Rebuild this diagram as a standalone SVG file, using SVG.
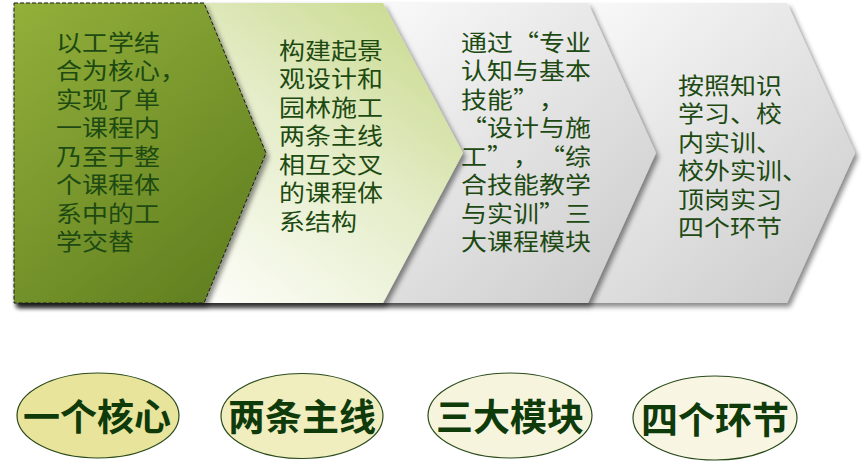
<svg xmlns="http://www.w3.org/2000/svg" width="866" height="461" viewBox="0 0 866 461">
<defs>
<style>
.t{font-family:"Noto Sans CJK SC","Noto Sans",sans-serif;font-size:23px;fill:#1d4a12;text-spacing-trim:space-all;}
.e{font-family:"Noto Sans CJK SC","Noto Sans",sans-serif;font-size:37px;font-weight:bold;fill:#0f3a0a;text-anchor:middle;}
.el{stroke:#2a4a1a;stroke-width:1.2;}
</style>
<filter id="sh" x="-10%" y="-10%" width="130%" height="130%">
<feDropShadow dx="3" dy="4" stdDeviation="2.5" flood-color="#000" flood-opacity="0.45"/>
</filter>
<linearGradient id="g1" gradientUnits="userSpaceOnUse" x1="14" y1="3" x2="266" y2="304">
<stop offset="0" stop-color="#93b03a"/><stop offset="1" stop-color="#5c7b1e"/>
</linearGradient>
<linearGradient id="g2" gradientUnits="userSpaceOnUse" x1="220" y1="304" x2="440" y2="10">
<stop offset="0" stop-color="#fcfdf7"/><stop offset="0.5" stop-color="#e5edca"/><stop offset="1" stop-color="#c8d98b"/>
</linearGradient>
<linearGradient id="g3" gradientUnits="userSpaceOnUse" x1="400" y1="0" x2="660" y2="304">
<stop offset="0" stop-color="#f8f8f8"/><stop offset="1" stop-color="#c9c9c9"/>
</linearGradient>
<linearGradient id="g4" gradientUnits="userSpaceOnUse" x1="600" y1="0" x2="860" y2="304">
<stop offset="0" stop-color="#f8f8f8"/><stop offset="1" stop-color="#c9c9c9"/>
</linearGradient>
</defs>
<rect width="866" height="461" fill="#ffffff"/>

<g id="node-4">
<path d="M14,3 H787 L855,153 L787,303 H14 Z" fill="url(#g4)" filter="url(#sh)"/>
<text class="t" transform="translate(678 0) scale(1.13 1)">
<tspan x="0" y="94">按照知识</tspan>
<tspan x="0" y="122.5">学习、校</tspan>
<tspan x="0" y="151">内实训、</tspan>
<tspan x="0" y="179.5">校外实训、</tspan>
<tspan x="0" y="208">顶岗实习</tspan>
<tspan x="0" y="236.5">四个环节</tspan>
</text>
</g>

<g id="node-3">
<path d="M14,3 H588 L656,153 L588,303 H14 Z" fill="url(#g3)" filter="url(#sh)"/>
<text class="t" transform="translate(461 0) scale(1.13 1)">
<tspan x="0" y="51">通过“专业</tspan>
<tspan x="0" y="79.5">认知与基本</tspan>
<tspan x="0" y="108">技能”，</tspan>
<tspan x="0" y="136.5">“设计与施</tspan>
<tspan x="0" y="165">工”，“综</tspan>
<tspan x="0" y="193.5">合技能教学</tspan>
<tspan x="0" y="222">与实训”三</tspan>
<tspan x="0" y="250.5">大课程模块</tspan>
</text>
</g>

<g id="node-2">
<path d="M14,3 H383 L463,153 L383,303 H14 Z" fill="url(#g2)" filter="url(#sh)"/>
<text class="t" transform="translate(279 0) scale(1.13 1)">
<tspan x="0" y="59">构建起景</tspan>
<tspan x="0" y="87.5">观设计和</tspan>
<tspan x="0" y="116">园林施工</tspan>
<tspan x="0" y="144.5">两条主线</tspan>
<tspan x="0" y="173">相互交叉</tspan>
<tspan x="0" y="201.5">的课程体</tspan>
<tspan x="0" y="230">系结构</tspan>
</text>
</g>

<g id="node-1">
<path d="M14,3 H204 L266,153 L204,303 H14 Z" fill="url(#g1)" filter="url(#sh)"/>
<path d="M14,3 H204 L266,153 L204,303 H14 Z" fill="none" stroke="#1a1a1a" stroke-width="1" stroke-dasharray="4 2"/>
<text class="t" transform="translate(56 0) scale(1.13 1)">
<tspan x="0" y="51">以工学结</tspan>
<tspan x="0" y="79.5">合为核心，</tspan>
<tspan x="0" y="108">实现了单</tspan>
<tspan x="0" y="136.5">一课程内</tspan>
<tspan x="0" y="165">乃至于整</tspan>
<tspan x="0" y="193.5">个课程体</tspan>
<tspan x="0" y="222">系中的工</tspan>
<tspan x="0" y="250.5">学交替</tspan>
</text>
</g>

<g id="label-1">
<ellipse class="el" cx="98" cy="415.5" rx="81" ry="42.5" fill="#e8e49c"/>
<text class="e" x="97" y="431">一个核心</text>
</g>
<g id="label-2">
<ellipse class="el" cx="302" cy="416" rx="81" ry="42.5" fill="#f0edbf"/>
<text class="e" x="302" y="431">两条主线</text>
</g>
<g id="label-3">
<ellipse class="el" cx="510" cy="415.5" rx="82" ry="42.5" fill="#f6f4dc"/>
<text class="e" x="510" y="431">三大模块</text>
</g>
<g id="label-4">
<ellipse class="el" cx="715" cy="418" rx="82" ry="42" fill="#f8f6e2"/>
<text class="e" x="715" y="434">四个环节</text>
</g>
</svg>
